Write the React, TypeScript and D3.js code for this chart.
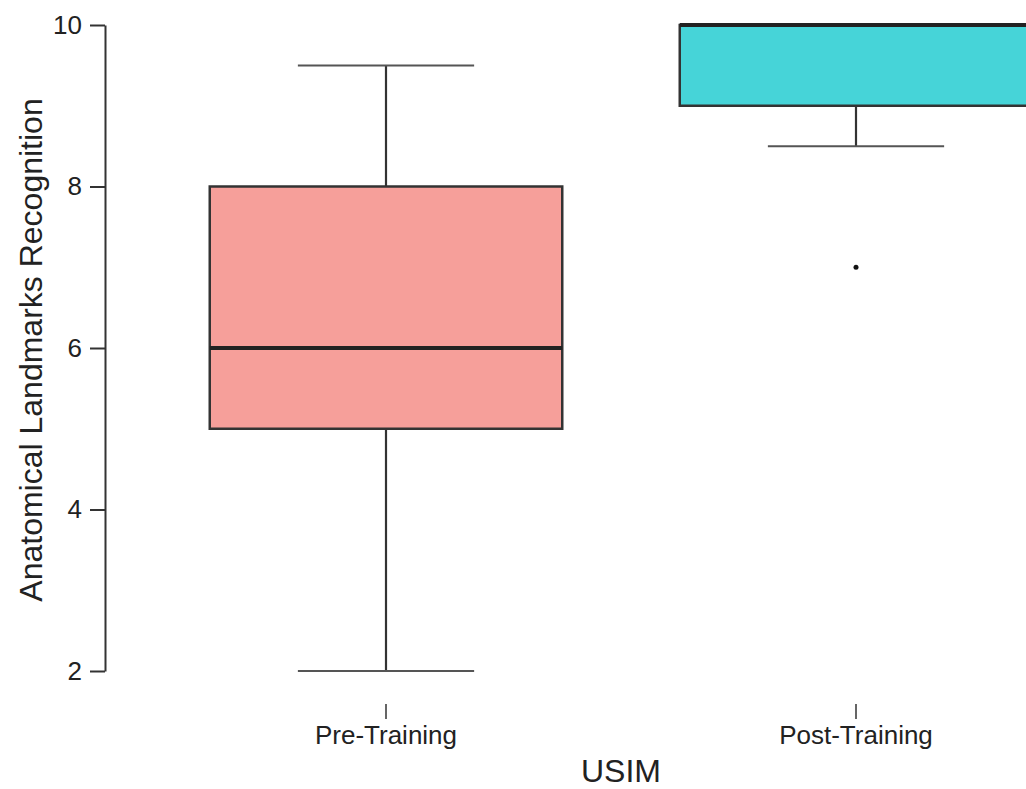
import React, { useRef, useEffect } from 'react';
import * as d3 from 'd3';

const groups = ['Pre-Training', 'Post-Training'];
const lowerWhisker = [2, 8.5];
const q1 = [5, 9];
const median = [6, 10];
const q3 = [8, 10];
const upperWhisker = [9.5, 10];
const outliers = [[], [7]];
const fills = ['#f69f9a', '#46d4d8'];
const yTicks = [2, 4, 6, 8, 10];

const font = 'Liberation Sans, Arial, sans-serif';

const App = () => {
  const ref = useRef<SVGSVGElement | null>(null);

  const width = 1026;
  const height = 789;

  useEffect(() => {
    if (!ref.current) return;
    const svg = d3.select(ref.current);
    svg.selectAll('*').remove();

    const y = d3.scaleLinear().domain([2, 10]).range([671, 25]);
    const x = d3.scaleBand(groups, [151, 1091]).padding(0);
    const bw = x.bandwidth();
    const cx = (g: string) => (x(g) || 0) + bw / 2;

    const data = groups.map((g, i) => ({
      g,
      lo: lowerWhisker[i],
      q1: q1[i],
      med: median[i],
      q3: q3[i],
      hi: upperWhisker[i],
      out: outliers[i],
      fill: fills[i],
    }));

    const stroke = '#333';

    const box = svg.append('g').selectAll('g').data(data).join('g');

    // whiskers
    box
      .append('line')
      .attr('x1', (d) => cx(d.g))
      .attr('x2', (d) => cx(d.g))
      .attr('y1', (d) => y(d.hi))
      .attr('y2', (d) => y(d.q3))
      .attr('stroke', stroke)
      .attr('stroke-width', 2.2);
    box
      .append('line')
      .attr('x1', (d) => cx(d.g))
      .attr('x2', (d) => cx(d.g))
      .attr('y1', (d) => y(d.q1))
      .attr('y2', (d) => y(d.lo))
      .attr('stroke', stroke)
      .attr('stroke-width', 2.2);
    // caps
    [(d: any) => d.hi, (d: any) => d.lo].forEach((f) =>
      box
        .append('line')
        .attr('x1', (d) => cx(d.g) - bw * 0.1875)
        .attr('x2', (d) => cx(d.g) + bw * 0.1875)
        .attr('y1', (d) => y(f(d)))
        .attr('y2', (d) => y(f(d)))
        .attr('stroke', (d) => (f(d) === d.q3 ? 'none' : '#555'))
        .attr('stroke-width', 2)
    );

    box
      .append('rect')
      .attr('x', (d) => cx(d.g) - bw * 0.375)
      .attr('width', bw * 0.75)
      .attr('y', (d) => y(d.q3))
      .attr('height', (d) => y(d.q1) - y(d.q3))
      .attr('fill', (d) => d.fill)
      .attr('stroke', stroke)
      .attr('stroke-width', 2.5);

    box
      .append('line')
      .attr('x1', (d) => cx(d.g) - bw * 0.375)
      .attr('x2', (d) => cx(d.g) + bw * 0.375)
      .attr('y1', (d) => y(d.med))
      .attr('y2', (d) => y(d.med))
      .attr('stroke', '#222')
      .attr('stroke-width', 4);

    box
      .selectAll('circle')
      .data((d) => d.out.map((v: number) => ({ g: d.g, v })))
      .join('circle')
      .attr('cx', (d) => cx(d.g))
      .attr('cy', (d) => y(d.v))
      .attr('r', 2.5)
      .attr('fill', '#111');

    // y axis
    const yAxis = svg
      .append('g')
      .attr('transform', 'translate(105,0)')
      .call(d3.axisLeft(y).tickValues(yTicks).tickSize(15).tickSizeOuter(0).tickPadding(8));
    yAxis.select('.domain').attr('stroke', '#333').attr('stroke-width', 2);
    yAxis.selectAll('.tick line').attr('stroke', '#333').attr('stroke-width', 2);
    yAxis
      .selectAll('.tick text')
      .attr('font-family', font)
      .attr('font-size', 26)
      .attr('fill', '#222');

    // x axis
    const xAxis = svg
      .append('g')
      .attr('transform', 'translate(0,704)')
      .call(d3.axisBottom(x).tickSize(15).tickSizeOuter(0).tickPadding(7));
    xAxis.select('.domain').remove();
    xAxis.selectAll('.tick line').attr('stroke', '#333').attr('stroke-width', 1.5);
    xAxis
      .selectAll('.tick text')
      .attr('font-family', font)
      .attr('font-size', 26)
      .attr('fill', '#222');

    svg
      .append('text')
      .attr('x', 621)
      .attr('y', 782)
      .attr('text-anchor', 'middle')
      .attr('font-family', font)
      .attr('font-size', 32)
      .attr('fill', '#222')
      .text('USIM');

    svg
      .append('text')
      .attr('transform', 'translate(42,350) rotate(-90)')
      .attr('text-anchor', 'middle')
      .attr('font-family', font)
      .attr('font-size', 32)
      .attr('fill', '#222')
      .text('Anatomical Landmarks Recognition');
  });

  return (
    <svg
      ref={ref}
      width={width}
      height={height}
      style={{ position: 'absolute', left: 0, top: 0, background: '#fff' }}
    />
  );
};

export default App;
